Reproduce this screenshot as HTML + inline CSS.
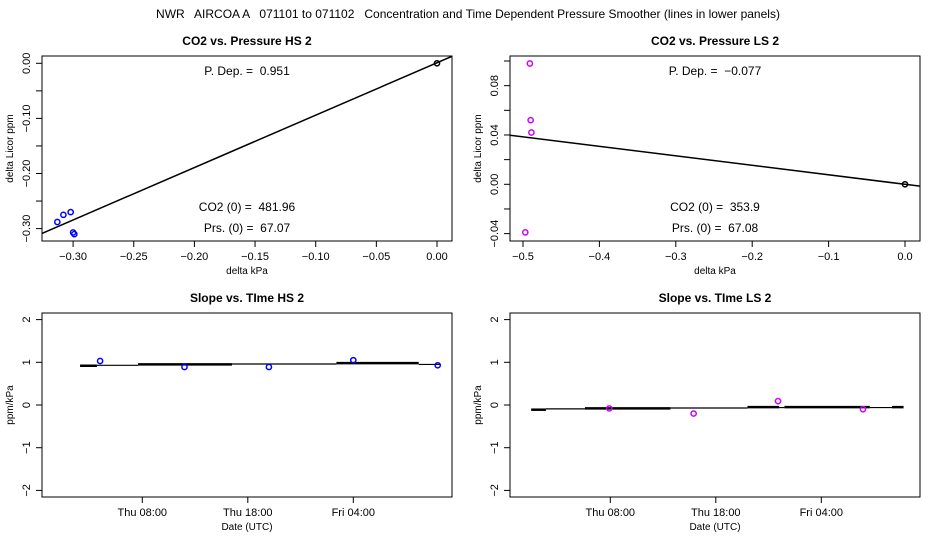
<!DOCTYPE html>
<html><head><meta charset="utf-8"><style>
body{margin:0;background:#fff}
svg{font-family:"Liberation Sans",sans-serif;display:block}
text{white-space:pre}
</style></head><body>
<svg id="c" width="936" height="540" xmlns="http://www.w3.org/2000/svg">
<text x="468" y="18" font-size="12" text-anchor="middle" xml:space="preserve">NWR   AIRCOA A   071101 to 071102   Concentration and Time Dependent Pressure Smoother (lines in lower panels)</text>
</svg>
<script>
// HS pressure panel
const hsPx=[-0.313,-0.308,-0.302,-0.300,-0.299];
const hsPy=[-0.288,-0.275,-0.270,-0.307,-0.310];
const hsSlope=0.951, hsIntercept=0.001;
// LS pressure panel
const lsPx=[-0.491,-0.490,-0.489,-0.497];
const lsPy=[0.098,0.052,0.042,-0.039];
const lsSlope=-0.077, lsIntercept=0.0;
// Time panels (hours since Thu 00:00)
const hsTimes=[4,12,20,28,36];
const hsSlopes=[1.03,0.89,0.89,1.05,0.93];
const hsSegStart=[2.1,3.7,7.6,16.5,26.4,34.2];
const hsSegEnd=[3.7,7.6,16.5,26.4,34.2,36.2];
const hsSegVal=[0.92,0.93,0.95,0.96,0.98,0.95];
const hsSegThick=[1,0,1,0,1,0];
const lsTimes=[7.9,15.9,23.9,31.95];
const lsSlopes=[-0.08,-0.2,0.09,-0.1];
const lsSegStart=[0.5,1.9,5.6,13.7,21.0,24.0,24.5,32.6,34.7];
const lsSegEnd=[1.9,5.6,13.7,21.0,24.0,24.5,32.6,34.7,35.8];
const lsSegVal=[-0.11,-0.09,-0.08,-0.07,-0.05,-0.06,-0.05,-0.06,-0.05];
const lsSegThick=[1,0,1,0,1,0,1,0,1];
const timeTicks=[8,18,28];
const timeLabels=["Thu 08:00","Thu 18:00","Fri 04:00"];

const svg=document.getElementById('c');
const NS="http://www.w3.org/2000/svg";
function mk(tag,a,name,parent){const e=document.createElementNS(NS,tag);for(const k in a)e.setAttribute(k,a[k]);


(parent||svg).appendChild(e);return e;}
function txt(x,y,s,size,name,extra){const e=mk('text',Object.assign({x:x,y:y,'font-size':size,'text-anchor':'middle'},extra||{}),name);e.textContent=s;return e;}

function panel(o){
  const {x0,x1,y0,y1}=o;
  mk('rect',{x:x0,y:y0,width:x1-x0,height:y1-y0,fill:'none',stroke:'#000','stroke-width':1},o.id+'-plot-frame');
  txt((x0+x1)/2,y0-11,o.title,12,o.id+'-title',{'font-weight':'bold'});
  const sx=v=>o.xa+(v-o.xv0)*o.xs, sy=v=>o.ya+(v-o.yv0)*o.ys;
  o.xt.forEach((v,i)=>{const X=sx(v);mk('line',{x1:X,x2:X,y1:y1,y2:y1+6,stroke:'#000'},o.id+'-x-tick');
    txt(X,y1+19,o.xl[i],11,o.id+'-x-tick-label');});
  o.yt.forEach((v,i)=>{const Y=sy(v);mk('line',{x1:x0,x2:x0-6,y1:Y,y2:Y,stroke:'#000'},o.id+'-y-tick');
    if(o.yl[i]!==''){txt(x0-12,Y,o.yl[i],11,o.id+'-y-tick-label',{transform:`rotate(-90 ${x0-12} ${Y})`});}});
  txt((x0+x1)/2,y1+33,o.xlab,10,o.id+'-x-axis-title');
  const lx=x0-29,ly=(y0+y1)/2;
  txt(lx,ly,o.ylab,10,o.id+'-y-axis-title',{transform:`rotate(-90 ${lx} ${ly})`});
  return {sx,sy};
}
function clipRect(id,x0,y0,x1,y1){const cp=mk('clipPath',{id:id},'clip');mk('rect',{x:x0,y:y0,width:x1-x0,height:y1-y0},'clip-rect',cp);}

let p=panel({id:'hs-pressure',x0:42,x1:452,y0:56,y1:241,xa:437,xv0:0,xs:1213,ya:63.3,yv0:0,ys:-551,
 xt:[-0.30,-0.25,-0.20,-0.15,-0.10,-0.05,0],xl:['\u22120.30','\u22120.25','\u22120.20','\u22120.15','\u22120.10','\u22120.05','0.00'],
 yt:[0,-0.05,-0.10,-0.15,-0.20,-0.25,-0.30],yl:['0.00','','\u22120.10','','\u22120.20','','\u22120.30'],
 title:'CO2 vs. Pressure HS 2',xlab:'delta kPa',ylab:'delta Licor ppm'});
clipRect('c1',42,56,452,241);
mk('line',{x1:p.sx(-0.33),y1:p.sy(hsIntercept+hsSlope*-0.33),x2:p.sx(0.02),y2:p.sy(hsIntercept+hsSlope*0.02),stroke:'#000','stroke-width':1.5,'clip-path':'url(#c1)'},'hs-fit-line');
hsPx.forEach((v,i)=>mk('circle',{cx:p.sx(v),cy:p.sy(hsPy[i]),r:2.6,fill:'none',stroke:'#00f','stroke-width':1.5},'hs-point'));
mk('circle',{cx:p.sx(0),cy:p.sy(0),r:2.6,fill:'none',stroke:'#000','stroke-width':1.5},'hs-origin-point');
txt(247,75,'P. Dep. =  0.951',12,'hs-pdep-label');
txt(247,211,'CO2 (0) =  481.96',12,'hs-co2-label');
txt(247,232,'Prs. (0) =  67.07',12,'hs-prs-label');

p=panel({id:'ls-pressure',x0:510,x1:920,y0:56,y1:241,xa:905,xv0:0,xs:764,ya:184.3,yv0:0,ys:-1233,
 xt:[-0.5,-0.4,-0.3,-0.2,-0.1,0],xl:['\u22120.5','\u22120.4','\u22120.3','\u22120.2','\u22120.1','0.0'],
 yt:[-0.04,-0.02,0,0.02,0.04,0.06,0.08,0.10],yl:['\u22120.04','','0.00','','0.04','','0.08',''],
 title:'CO2 vs. Pressure LS 2',xlab:'delta kPa',ylab:'delta Licor ppm'});
clipRect('c2',510,56,920,241);
mk('line',{x1:p.sx(-0.53),y1:p.sy(lsIntercept+lsSlope*-0.53),x2:p.sx(0.03),y2:p.sy(lsIntercept+lsSlope*0.03),stroke:'#000','stroke-width':1.5,'clip-path':'url(#c2)'},'ls-fit-line');
lsPx.forEach((v,i)=>mk('circle',{cx:p.sx(v),cy:p.sy(lsPy[i]),r:2.6,fill:'none',stroke:'#c0f','stroke-width':1.5},'ls-point'));
mk('circle',{cx:p.sx(0),cy:p.sy(0),r:2.6,fill:'none',stroke:'#000','stroke-width':1.5},'ls-origin-point');
txt(715,75,'P. Dep. =  \u22120.077',12,'ls-pdep-label');
txt(715,211,'CO2 (0) =  353.9',12,'ls-co2-label');
txt(715,232,'Prs. (0) =  67.08',12,'ls-prs-label');

function timePanel(id,x0,title,times,vals,ss,se,sv,st,color){
  const q=panel({id:id,x0:x0,x1:x0+410,y0:313,y1:497,xa:x0+100.3,xv0:8,xs:10.55,ya:405,yv0:0,ys:-42.7,
   xt:timeTicks,xl:timeLabels,yt:[-2,-1,0,1,2],yl:['\u22122','\u22121','0','1','2'],
   title:title,xlab:'Date (UTC)',ylab:'ppm/kPa'});
  ss.forEach((s,i)=>mk('line',{x1:q.sx(s),x2:q.sx(se[i]),y1:q.sy(sv[i]),y2:q.sy(sv[i]),stroke:'#000','stroke-width':st[i]?2.5:1.2},id+'-smoother-segment'));
  times.forEach((t,i)=>mk('circle',{cx:q.sx(t),cy:q.sy(vals[i]),r:2.6,fill:'none',stroke:color,'stroke-width':1.5},id+'-point'));
}
timePanel('hs-time',42,'Slope vs. TIme HS 2',hsTimes,hsSlopes,hsSegStart,hsSegEnd,hsSegVal,hsSegThick,'#00f');
timePanel('ls-time',510,'Slope vs. TIme LS 2',lsTimes,lsSlopes,lsSegStart,lsSegEnd,lsSegVal,lsSegThick,'#c0f');
</script>
</body></html>
